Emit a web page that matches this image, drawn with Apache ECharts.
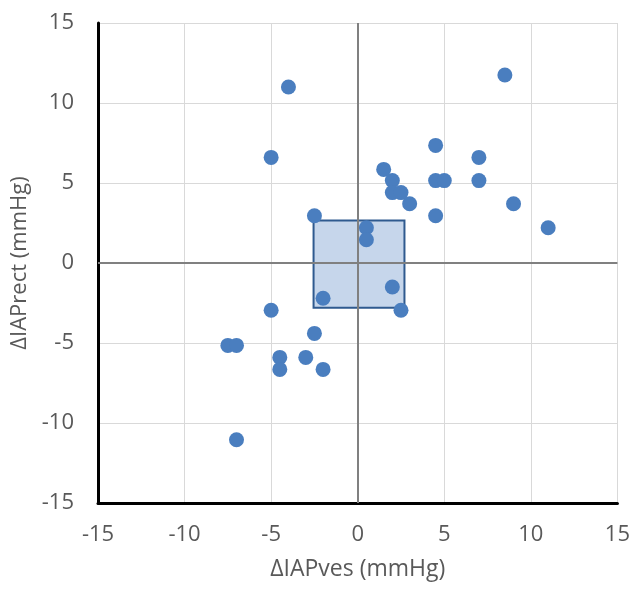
<!DOCTYPE html>
<html>
<head>
<meta charset="utf-8">
<script src="https://cdn.jsdelivr.net/npm/echarts@6/dist/echarts.min.js"></script>
<style>
  html, body { margin: 0; padding: 0; background: #fff; }
  #main { width: 633px; height: 590px; }
</style>
</head>
<body>
<div id="main"></div>
<script>
// ΔIAPves (x) vs ΔIAPrect (y)
const dIAPves = [-4, 8.5, -5, 4.5, 7, 1.5, 2, 2, 2.5, 3, 4.5, 5, 7, 9, 4.5, 11, -2.5, 0.5, 0.5,
  2, -2, -5, 2.5, -2.5, -7.5, -7, -4.5, -3, -4.5, -2, -7];
const dIAPrect = [11, 11.75, 6.6, 7.35, 6.6, 5.85, 5.15, 4.4, 4.4, 3.7, 5.15, 5.15, 5.15, 3.7, 2.95, 2.2, 2.95, 2.2, 1.45,
  -1.5, -2.2, -2.95, -2.95, -4.4, -5.15, -5.15, -5.9, -5.9, -6.65, -6.65, -11.05];
const boxX = [-2.55, 2.7];
const boxY = [-2.8, 2.65];
const ticks = [-15, -10, -5, 0, 5, 10, 15];

const points = dIAPves.map((x, i) => [x, dIAPrect[i]]);
const textColor = '#595959';
const font = 'Open Sans';

const chart = echarts.init(document.getElementById('main'));
chart.setOption({
  animation: false,
  grid: { left: 98, right: 15, top: 23, bottom: 87, containLabel: false },
  xAxis: {
    type: 'value', min: ticks[0], max: ticks[ticks.length - 1], interval: 5,
    name: 'ΔIAPves (mmHg)', nameLocation: 'middle', nameGap: 55,
    nameTextStyle: { color: textColor, fontSize: 23, fontFamily: font },
    axisLine: { onZero: false, lineStyle: { color: '#000', width: 3 } },
    axisTick: { show: false },
    axisLabel: { color: textColor, fontSize: 22, fontFamily: font, margin: 21 },
    splitLine: { lineStyle: { color: '#d9d9d9', width: 1 } }
  },
  yAxis: {
    type: 'value', min: ticks[0], max: ticks[ticks.length - 1], interval: 5,
    name: 'ΔIAPrect (mmHg)', nameLocation: 'middle', nameGap: 63,
    nameTextStyle: { color: textColor, fontSize: 22, fontFamily: font },
    axisLine: { onZero: false, lineStyle: { color: '#000', width: 3 } },
    axisTick: { show: false },
    axisLabel: { color: textColor, fontSize: 22, fontFamily: font, margin: 24 },
    splitLine: { lineStyle: { color: '#d9d9d9', width: 1 } }
  },
  series: [
    {
      type: 'scatter', data: [], z: 1,
      markArea: {
        silent: true,
        itemStyle: { color: '#c6d6eb', borderColor: '#2f5a8f', borderWidth: 2 },
        data: [[{ coord: [boxX[0], boxY[0]] }, { coord: [boxX[1], boxY[1]] }]]
      }
    },
    {
      type: 'line', data: [], z: 2,
      markLine: {
        silent: true, symbol: 'none', label: { show: false },
        lineStyle: { color: '#808080', width: 2, type: 'solid' },
        data: [{ xAxis: 0 }, { yAxis: 0 }]
      }
    },
    {
      type: 'scatter', data: points, z: 3,
      symbol: 'circle', symbolSize: 15,
      itemStyle: { color: '#4a7ebf', opacity: 1 }
    }
  ]
});
</script>
</body>
</html>
